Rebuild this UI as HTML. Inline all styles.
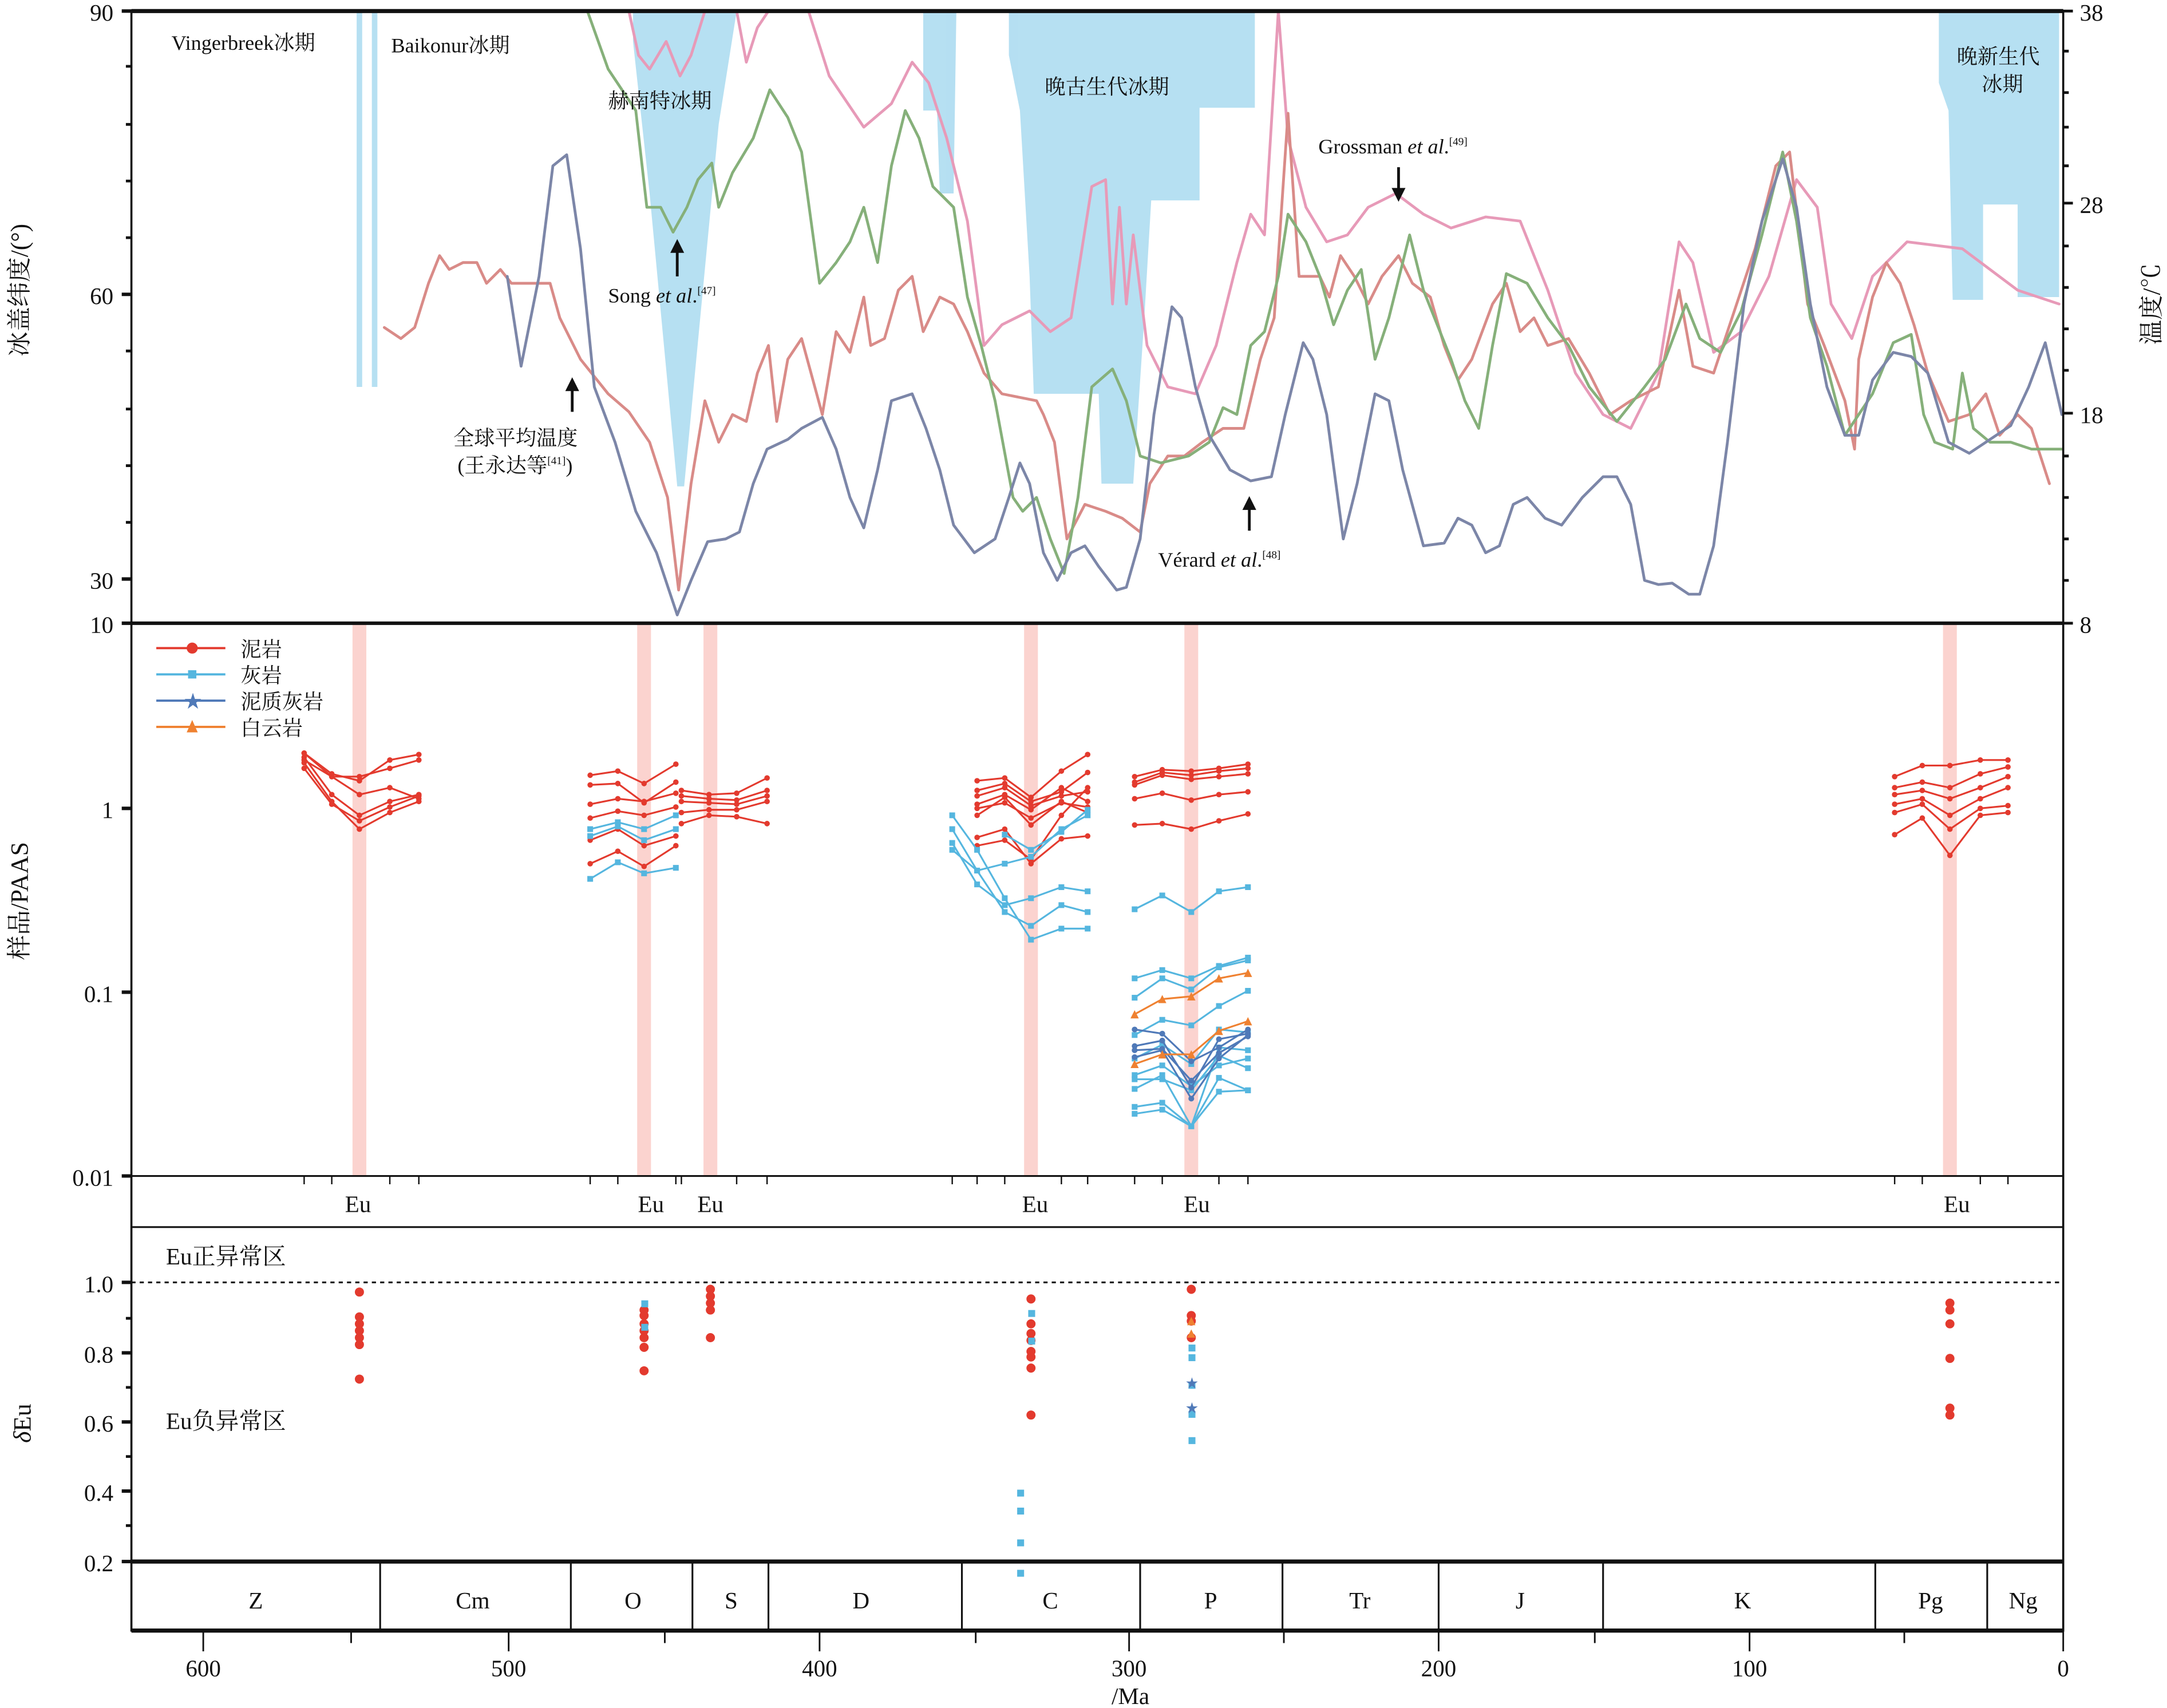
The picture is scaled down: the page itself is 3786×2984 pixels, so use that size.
<!DOCTYPE html>
<html><head><meta charset="utf-8"><style>
html,body{margin:0;padding:0;background:#fff}
svg{display:block}
text{font-family:"Liberation Serif","Noto Serif CJK SC","Noto Sans CJK SC",serif;fill:#111}
</style></head><body>
<svg width="3786" height="2984" viewBox="0 0 1568 1236" xmlns="http://www.w3.org/2000/svg">
<defs>
<marker id="mr" viewBox="0 0 6 6" refX="3" refY="3" markerWidth="6" markerHeight="6" markerUnits="userSpaceOnUse"><circle cx="3" cy="3" r="2" fill="#e33a2e"/></marker>
<marker id="mb" viewBox="0 0 6 6" refX="3" refY="3" markerWidth="5" markerHeight="5" markerUnits="userSpaceOnUse"><rect x="0.5" y="0.5" width="5" height="5" fill="#55b6df"/></marker>
<marker id="md" viewBox="0 0 6 6" refX="3" refY="3" markerWidth="5" markerHeight="5" markerUnits="userSpaceOnUse"><circle cx="3" cy="3" r="2.5" fill="#4f79b8"/></marker>
<marker id="mo" viewBox="0 0 6 6" refX="3" refY="3" markerWidth="6" markerHeight="6" markerUnits="userSpaceOnUse"><polygon points="3,0 0,6 6,6" fill="#ef8131"/></marker>
</defs>
<!-- glacial blue areas -->
<g fill="#a9daf0" opacity="0.85">
<rect x="258" y="8" width="4" height="272"/><rect x="269" y="8" width="4" height="272"/>
<polygon points="458,8 533,8 520,90 495,352 490,352 470,140 458,30"/>
<polygon points="668,8 692,8 690,140 680,140 678,80 668,80"/>
<polygon points="730,8 908,8 908,78 868,78 868,145 833,145 828,230 820,350 797,350 795,285 748,285 745,200 738,80 730,40"/>
<polygon points="1403,8 1490,8 1490,215 1460,215 1460,148 1435,148 1435,217 1413,217 1410,80 1403,60"/>
</g>
<!-- curves top -->
<g fill="none" stroke-width="2" stroke-linejoin="round" stroke-linecap="round">
<polyline stroke="#e79ab8" points="455,8 462,40 470,50 482,30 492,55 500,40 510,8"/>
<polyline stroke="#e79ab8" points="533,8 540,45 548,20 556,8"/>
<polyline stroke="#e79ab8" points="585,8 600,55 625,92 645,75 660,45 672,60 685,100 700,160 712,250 725,235 745,225 760,240 775,230 790,135 800,130 805,220 810,150 815,220 820,170 830,250 845,280 865,285 880,250 895,190 905,155 915,170 925,8 932,100 945,150 960,175 975,170 990,150 1010,140 1030,155 1050,165 1075,157 1100,160 1120,210 1140,270 1160,300 1180,310 1200,270 1215,175 1225,190 1240,255 1260,240 1280,200 1300,130 1315,150 1325,220 1340,245 1355,200 1380,175 1420,180 1460,210 1490,220"/>
<polyline stroke="#d98b88" points="278,237 290,245 300,237 310,205 318,185 325,195 335,190 345,190 352,205 362,195 370,205 385,205 398,205 405,230 420,260 440,285 455,298 470,320 483,360 491,427 500,350 510,290 520,320 530,300 540,305 548,270 556,250 562,305 570,260 580,245 595,300 605,240 615,255 625,215 630,250 640,245 650,210 660,200 668,240 680,215 690,220 700,240 712,270 725,285 750,290 755,300 763,320 772,390 785,365 800,370 812,375 825,385 832,350 845,330 857,330 870,320 885,310 900,310 912,260 922,230 932,82 940,200 955,200 962,215 970,185 980,200 990,220 1000,200 1012,185 1022,205 1035,215 1045,250 1055,275 1065,260 1080,220 1090,205 1100,240 1110,230 1120,250 1135,245 1150,270 1165,300 1180,290 1200,280 1215,210 1225,265 1240,270 1255,225 1270,180 1285,120 1295,110 1308,220 1320,250 1335,290 1342,325 1345,260 1355,215 1365,190 1375,205 1385,235 1395,270 1410,305 1425,300 1437,285 1447,315 1460,300 1470,310 1483,350"/>
<polyline stroke="#86b07a" points="425,8 440,50 460,80 468,150 478,150 487,168 497,150 505,130 515,118 520,150 530,125 545,100 557,65 570,85 580,110 593,205 605,190 615,175 625,150 635,190 645,120 655,80 665,100 675,135 690,150 700,215 710,250 720,290 733,360 740,370 750,360 760,390 770,415 780,360 790,280 805,267 815,290 825,330 840,335 860,330 875,320 885,295 895,300 905,250 915,240 925,200 932,155 945,175 955,200 965,235 975,210 985,195 995,260 1005,230 1020,170 1030,210 1040,235 1050,260 1060,290 1070,310 1080,250 1090,198 1105,205 1120,230 1135,250 1150,280 1170,305 1190,280 1205,260 1220,220 1230,245 1245,255 1260,225 1275,170 1290,110 1300,160 1310,230 1322,265 1335,315 1345,300 1355,285 1370,248 1383,242 1392,300 1400,320 1413,325 1420,270 1428,310 1440,320 1455,320 1470,325 1492,325"/>
<polyline stroke="#7c86a8" points="367,200 377,265 390,200 400,120 410,112 420,180 430,280 445,320 460,370 475,400 490,445 500,420 512,392 525,390 535,385 545,350 555,325 570,318 580,310 595,302 605,325 615,360 625,382 635,340 645,290 660,285 670,310 680,340 690,380 705,400 720,390 730,360 738,335 745,350 755,400 765,420 775,400 785,395 795,410 808,427 815,425 825,390 835,300 848,222 855,230 865,280 875,315 890,340 905,348 920,345 930,300 943,248 950,260 960,300 972,390 982,350 995,285 1005,290 1015,340 1030,395 1045,393 1055,375 1065,380 1075,400 1085,395 1095,365 1105,360 1118,375 1130,380 1145,360 1160,345 1170,345 1180,365 1190,420 1200,423 1210,422 1222,430 1230,430 1240,395 1250,320 1262,220 1275,160 1290,115 1300,150 1310,220 1322,280 1335,315 1345,315 1355,275 1370,255 1383,258 1395,270 1410,320 1425,328 1440,318 1455,308 1468,280 1480,248 1492,300"/>
</g>
<!-- top annotations -->
<g font-size="15">
<text x="124" y="36">Vingerbreek冰期</text>
<text x="283" y="38">Baikonur冰期</text>
<text x="440" y="78">赫南特冰期</text>
<text x="756" y="68">晚古生代冰期</text>
<text x="1416" y="46">晚新生代</text><text x="1434" y="66">冰期</text>
<text x="954" y="111">Grossman <tspan font-style="italic">et al</tspan>.<tspan font-size="8" dy="-6">[49]</tspan></text>
<text x="440" y="219">Song <tspan font-style="italic">et al</tspan>.<tspan font-size="8" dy="-6">[47]</tspan></text>
<text x="328" y="322">全球平均温度</text>
<text x="331" y="342">(王永达等<tspan font-size="8" dy="-6">[41]</tspan><tspan dy="6">)</tspan></text>
<text x="838" y="410">Vérard <tspan font-style="italic">et al</tspan>.<tspan font-size="8" dy="-6">[48]</tspan></text>
</g>
<g stroke="#111" stroke-width="2" fill="#111">
<line x1="1012" y1="121" x2="1012" y2="140"/><polygon points="1007,136 1017,136 1012,146" stroke="none"/>
<line x1="490" y1="200" x2="490" y2="180"/><polygon points="485,183 495,183 490,173" stroke="none"/>
<line x1="414" y1="298" x2="414" y2="280"/><polygon points="409,283 419,283 414,273" stroke="none"/>
<line x1="904" y1="384" x2="904" y2="366"/><polygon points="899,369 909,369 904,359" stroke="none"/>
</g>
<!-- pink bands middle -->
<g fill="#fbd3cf">
<rect x="255" y="452" width="10" height="399"/><rect x="461" y="452" width="10" height="399"/>
<rect x="509" y="452" width="10" height="399"/><rect x="741" y="452" width="10" height="399"/>
<rect x="857" y="452" width="10" height="399"/><rect x="1406" y="452" width="10" height="399"/>
</g>
<!-- sample lines -->
<g fill="none" stroke-width="1.3" stroke-linejoin="round">
<g stroke="#e33a2e" marker-start="url(#mr)" marker-mid="url(#mr)" marker-end="url(#mr)">
<polyline points="220,545 240,560 260,565 282,550 303,546"/>
<polyline points="220,550 240,562 260,562 282,556 303,550"/>
<polyline points="220,545 240,562 260,575 282,570 303,578"/>
<polyline points="220,548 240,575 260,590 282,580 303,575"/>
<polyline points="220,552 240,580 260,600 282,588 303,580"/>
<polyline points="220,556 240,582 260,594 282,584 303,576"/>
<polyline points="427,561 447,558 466,567 489,553"/>
<polyline points="427,568 447,567 466,581 489,566"/>
<polyline points="427,582 447,578 466,580 489,574"/>
<polyline points="427,592 447,587 466,590 489,584"/>
<polyline points="427,608 447,600 466,612 489,605"/>
<polyline points="427,625 447,616 466,627 489,612"/>
<polyline points="493,572 513,575 533,574 555,563"/>
<polyline points="493,576 513,578 533,579 555,572"/>
<polyline points="493,580 513,581 533,582 555,576"/>
<polyline points="493,588 513,586 533,586 555,580"/>
<polyline points="493,596 513,590 533,591 555,596"/>
<polyline points="707,565 727,563 746,577 768,558 787,546"/>
<polyline points="707,572 727,567 746,580 768,573 787,559"/>
<polyline points="707,576 727,570 746,583 768,576 787,573"/>
<polyline points="707,582 727,575 746,586 768,570 787,580"/>
<polyline points="707,585 727,581 746,592 768,581 787,584"/>
<polyline points="707,590 727,577 746,597 768,580 787,588"/>
<polyline points="707,606 727,600 746,625 768,607 787,605"/>
<polyline points="707,612 727,608 746,622 768,590 787,570"/>
<polyline points="821,562 841,557 862,558 882,556 903,553"/>
<polyline points="821,566 841,559 862,561 882,558 903,556"/>
<polyline points="821,568 841,561 862,564 882,562 903,560"/>
<polyline points="821,578 841,574 862,579 882,575 903,573"/>
<polyline points="821,597 841,596 862,600 882,594 903,589"/>
<polyline points="1371,562 1391,554 1411,554 1433,550 1453,550"/>
<polyline points="1371,570 1391,566 1411,570 1433,560 1453,555"/>
<polyline points="1371,575 1391,572 1411,578 1433,570 1453,562"/>
<polyline points="1371,582 1391,578 1411,590 1433,578 1453,570"/>
<polyline points="1371,588 1391,582 1411,600 1433,585 1453,583"/>
<polyline points="1371,604 1391,592 1411,619 1433,590 1453,588"/>
</g>
<g stroke="#55b6df" marker-start="url(#mb)" marker-mid="url(#mb)" marker-end="url(#mb)">
<polyline points="427,636 447,624 466,632 489,628"/>
<polyline points="427,605 447,598 466,608 489,600"/>
<polyline points="427,600 447,595 466,600 489,590"/>
<polyline points="689,590 707,615 727,650 746,680 768,672 787,672"/>
<polyline points="689,600 707,630 727,660 746,670 768,655 787,660"/>
<polyline points="689,610 707,640 727,655 746,650 768,642 787,645"/>
<polyline points="689,615 707,630 727,625 746,620 768,600 787,590"/>
<polyline points="727,604 746,615 768,602 787,586"/>
<polyline points="821,658 841,648 862,660 882,645 903,642"/>
<polyline points="821,708 841,702 862,708 882,699 903,693"/>
<polyline points="821,722 841,708 862,716 882,700 903,695"/>
<polyline points="821,749 841,738 862,742 882,728 903,717"/>
<polyline points="821,766 841,756 862,770 882,745 903,747"/>
<polyline points="821,778 841,771 862,786 882,771 903,766"/>
<polyline points="821,781 841,781 862,789 882,764 903,773"/>
<polyline points="821,788 841,778 862,815 882,758 903,760"/>
<polyline points="821,801 841,798 862,815 882,790 903,789"/>
<polyline points="821,806 841,803 862,815 882,780 903,789"/>
</g>
<g stroke="#4f79b8" marker-start="url(#md)" marker-mid="url(#md)" marker-end="url(#md)">
<polyline points="821,745 841,748 862,768 882,758 903,745"/>
<polyline points="821,757 841,753 862,787 882,752 903,748"/>
<polyline points="821,760 841,759 862,782 882,762 903,750"/>
<polyline points="821,765 841,760 862,795 882,766 903,749"/>
</g>
<g stroke="#ef8131" marker-start="url(#mo)" marker-mid="url(#mo)" marker-end="url(#mo)">
<polyline points="821,734 841,723 862,721 882,708 903,704"/>
<polyline points="821,770 841,763 862,763 882,746 903,739"/>
</g>
</g>
<!-- legend -->
<g stroke-width="1.6">
<line x1="113" y1="469" x2="163" y2="469" stroke="#e33a2e"/><circle cx="139" cy="469" r="4" fill="#e33a2e"/>
<line x1="113" y1="488" x2="163" y2="488" stroke="#55b6df"/><rect x="136" y="485" width="6" height="6" fill="#55b6df"/>
<line x1="113" y1="507" x2="163" y2="507" stroke="#4f79b8"/><text x="133" y="512" font-size="13" style="fill:#4f79b8">★</text>
<line x1="113" y1="526" x2="163" y2="526" stroke="#ef8131"/><polygon points="139,521 135,530 143,530" fill="#ef8131"/>
</g>
<g font-size="15"><text x="174" y="475">泥岩</text><text x="174" y="494">灰岩</text><text x="174" y="513">泥质灰岩</text><text x="174" y="532">白云岩</text></g>
<!-- bottom dots -->
<g fill="#e33a2e">
<circle cx="260" cy="935" r="3.3"/><circle cx="260" cy="953" r="3.3"/><circle cx="260" cy="958" r="3.3"/><circle cx="260" cy="963" r="3.3"/><circle cx="260" cy="968" r="3.3"/><circle cx="260" cy="973" r="3.3"/><circle cx="260" cy="998" r="3.3"/>
<circle cx="466" cy="948" r="3.3"/><circle cx="466" cy="952" r="3.3"/><circle cx="466" cy="958" r="3.3"/><circle cx="466" cy="963" r="3.3"/><circle cx="466" cy="968" r="3.3"/><circle cx="466" cy="975" r="3.3"/><circle cx="466" cy="992" r="3.3"/>
<circle cx="514" cy="933" r="3.3"/><circle cx="514" cy="938" r="3.3"/><circle cx="514" cy="943" r="3.3"/><circle cx="514" cy="948" r="3.3"/><circle cx="514" cy="968" r="3.3"/>
<circle cx="746" cy="940" r="3.3"/><circle cx="746" cy="958" r="3.3"/><circle cx="746" cy="965" r="3.3"/><circle cx="746" cy="970" r="3.3"/><circle cx="746" cy="978" r="3.3"/><circle cx="746" cy="982" r="3.3"/><circle cx="746" cy="990" r="3.3"/><circle cx="746" cy="1024" r="3.3"/>
<circle cx="862" cy="933" r="3.3"/><circle cx="862" cy="952" r="3.3"/><circle cx="862" cy="956" r="3.3"/><circle cx="862" cy="968" r="3.3"/>
<circle cx="1411" cy="943" r="3.3"/><circle cx="1411" cy="948" r="3.3"/><circle cx="1411" cy="958" r="3.3"/><circle cx="1411" cy="983" r="3.3"/><circle cx="1411" cy="1019" r="3.3"/><circle cx="1411" cy="1024" r="3.3"/>
</g>
<g fill="#55b6df">
<rect x="464" y="941" width="5" height="5"/><rect x="464" y="958" width="5" height="5"/>
<rect x="744" y="948" width="5" height="5"/><rect x="744" y="968" width="5" height="5"/><rect x="736" y="1078" width="5" height="5"/><rect x="736" y="1091" width="5" height="5"/><rect x="736" y="1114" width="5" height="5"/><rect x="736" y="1136" width="5" height="5"/>
<rect x="860" y="973" width="5" height="5"/><rect x="860" y="980" width="5" height="5"/><rect x="860" y="1000" width="5" height="5"/><rect x="860" y="1021" width="5" height="5"/><rect x="860" y="1040" width="5" height="5"/>
</g>
<polygon points="862,953 859,959 865,959" fill="#ef8131"/><polygon points="862,962 859,968 865,968" fill="#ef8131"/>
<text x="858" y="1004" font-size="9" style="fill:#4f79b8">★</text><text x="858" y="1022" font-size="9" style="fill:#4f79b8">★</text>
<line x1="95" y1="928" x2="1493" y2="928" stroke="#111" stroke-width="1.3" stroke-dasharray="3,3"/>
<g font-size="17"><text x="120" y="915">Eu正异常区</text><text x="120" y="1034">Eu负异常区</text></g>
<!-- frames -->
<g fill="none" stroke="#111">
<rect x="95" y="8" width="1398" height="1172" stroke-width="1.5"/>
<line x1="95" y1="8" x2="1493" y2="8" stroke-width="3"/>
<line x1="95" y1="451" x2="1493" y2="451" stroke-width="2.5"/>
<line x1="95" y1="851" x2="1493" y2="851" stroke-width="1.3"/>
<line x1="95" y1="888" x2="1493" y2="888" stroke-width="1.3"/>
<line x1="95" y1="1130" x2="1493" y2="1130" stroke-width="3"/>
<line x1="95" y1="1180" x2="1493" y2="1180" stroke-width="3"/>
<g stroke-width="1.3">
<line x1="275" y1="1130" x2="275" y2="1180"/><line x1="413" y1="1130" x2="413" y2="1180"/><line x1="501" y1="1130" x2="501" y2="1180"/><line x1="556" y1="1130" x2="556" y2="1180"/><line x1="696" y1="1130" x2="696" y2="1180"/><line x1="825" y1="1130" x2="825" y2="1180"/><line x1="928" y1="1130" x2="928" y2="1180"/><line x1="1041" y1="1130" x2="1041" y2="1180"/><line x1="1160" y1="1130" x2="1160" y2="1180"/><line x1="1357" y1="1130" x2="1357" y2="1180"/><line x1="1438" y1="1130" x2="1438" y2="1180"/>
</g>
<g stroke-width="1.2">
<line x1="147" y1="1180" x2="147" y2="1195"/><line x1="368" y1="1180" x2="368" y2="1195"/><line x1="593" y1="1180" x2="593" y2="1195"/><line x1="817" y1="1180" x2="817" y2="1195"/><line x1="1041" y1="1180" x2="1041" y2="1195"/><line x1="1266" y1="1180" x2="1266" y2="1195"/><line x1="1493" y1="1180" x2="1493" y2="1195"/>
<line x1="254" y1="1180" x2="254" y2="1189"/><line x1="481" y1="1180" x2="481" y2="1189"/><line x1="706" y1="1180" x2="706" y2="1189"/><line x1="929" y1="1180" x2="929" y2="1189"/><line x1="1154" y1="1180" x2="1154" y2="1189"/><line x1="1378" y1="1180" x2="1378" y2="1189"/>
</g>
<g stroke-width="1">
<path d="M220,851v6M240,851v6M282,851v6M303,851v6M427,851v6M447,851v6M489,851v6M493,851v6M533,851v6M555,851v6M689,851v6M707,851v6M727,851v6M768,851v6M787,851v6M821,851v6M841,851v6M882,851v6M903,851v6M1371,851v6M1391,851v6M1433,851v6M1453,851v6"/>
</g>
<g stroke-width="2.5">
<line x1="88" y1="8" x2="95" y2="8"/><line x1="88" y1="213" x2="95" y2="213"/><line x1="88" y1="419" x2="95" y2="419"/>
<line x1="88" y1="451" x2="95" y2="451"/><line x1="88" y1="585" x2="95" y2="585"/><line x1="88" y1="718" x2="95" y2="718"/><line x1="88" y1="851" x2="95" y2="851"/>
<line x1="88" y1="928" x2="95" y2="928"/><line x1="88" y1="979" x2="95" y2="979"/><line x1="88" y1="1029" x2="95" y2="1029"/><line x1="88" y1="1079" x2="95" y2="1079"/><line x1="88" y1="1130" x2="95" y2="1130"/>
</g>
<g stroke-width="2">
<path d="M91,48h4M91,90h4M91,131h4M91,172h4M91,254h4M91,296h4M91,337h4M91,378h4M91,954h4M91,1004h4M91,1054h4M91,1104h4"/>
<path d="M1493,147h7M1493,299h7M1493,451h7M1493,8h7M1493,37h4M1493,67h4M1493,92h4M1493,120h4M1493,178h4M1493,208h4M1493,238h4M1493,268h4M1493,330h4M1493,360h4M1493,390h4M1493,420h4"/>
</g>
</g>
<g font-size="17" text-anchor="end">
<text x="82" y="15">90</text><text x="82" y="220">60</text><text x="82" y="426">30</text>
<text x="82" y="458">10</text><text x="82" y="592">1</text><text x="82" y="725">0.1</text><text x="82" y="858">0.01</text>
<text x="82" y="935">1.0</text><text x="82" y="986">0.8</text><text x="82" y="1036">0.6</text><text x="82" y="1086">0.4</text><text x="82" y="1137">0.2</text>
</g>
<g font-size="17"><text x="1505" y="15">38</text><text x="1505" y="154">28</text><text x="1505" y="306">18</text><text x="1505" y="458">8</text></g>
<g font-size="17" text-anchor="middle">
<text x="259" y="877">Eu</text><text x="471" y="877">Eu</text><text x="514" y="877">Eu</text><text x="749" y="877">Eu</text><text x="866" y="877">Eu</text><text x="1416" y="877">Eu</text>
<text x="185" y="1164">Z</text><text x="342" y="1164">Cm</text><text x="458" y="1164">O</text><text x="529" y="1164">S</text><text x="623" y="1164">D</text><text x="760" y="1164">C</text><text x="876" y="1164">P</text><text x="984" y="1164">Tr</text><text x="1100" y="1164">J</text><text x="1261" y="1164">K</text><text x="1397" y="1164">Pg</text><text x="1464" y="1164">Ng</text>
<text x="147" y="1213">600</text><text x="368" y="1213">500</text><text x="593" y="1213">400</text><text x="817" y="1213">300</text><text x="1041" y="1213">200</text><text x="1266" y="1213">100</text><text x="1493" y="1213">0</text>
<text x="818" y="1233">/Ma</text>
</g>
<text transform="translate(20,210) rotate(-90)" font-size="18" text-anchor="middle">冰盖纬度/(°)</text>
<text transform="translate(20,652) rotate(-90)" font-size="18" text-anchor="middle">样品/PAAS</text>
<text transform="translate(22,1030) rotate(-90)" font-size="18" text-anchor="middle"><tspan font-style="italic">δ</tspan>Eu</text>
<text transform="translate(1563,220) rotate(-90)" font-size="18" text-anchor="middle">温度/℃</text>
</svg>
</body></html>
